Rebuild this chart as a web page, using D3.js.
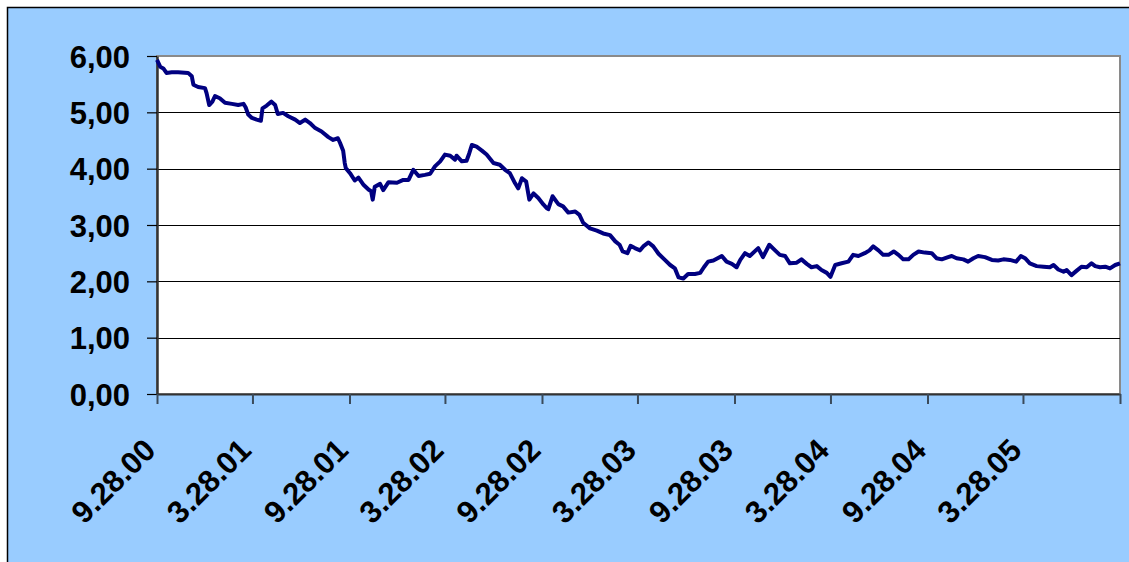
<!DOCTYPE html>
<html>
<head>
<meta charset="utf-8">
<script src="https://cdn.jsdelivr.net/npm/d3@7"></script>
<style>
  body { margin: 0; background: #ffffff; }
  text { font-family: "Liberation Sans", Arial, sans-serif; font-weight: bold; }
</style>
</head>
<body>
<div id="chart"></div>
<script>
// days after 28.09.2000, and the value at that day
var days = [0, 6, 12, 18, 28, 40, 59, 66, 69, 78, 91, 94, 99, 105, 110, 119, 129, 142, 154, 164,
    168, 173, 180, 189, 197, 200, 208, 217, 224, 229, 239, 249, 262, 271, 281, 290, 300, 312, 325, 334,
    343, 347, 353, 356, 358, 366, 375, 382, 391, 401, 406, 409, 413, 423, 429, 439, 455, 467, 477, 486,
    496, 508, 518, 527, 537, 546, 556, 565, 568, 578, 587, 592, 597, 606, 616, 625, 638, 650, 660, 669,
    679, 685, 692, 700, 706, 714, 723, 733, 739, 742, 750, 761, 770, 780, 793, 801, 808, 821, 834, 846,
    859, 869, 877, 883, 892, 898, 906, 916, 922, 932, 941, 951, 963, 973, 982, 989, 998, 1007, 1020, 1030,
    1037, 1045, 1055, 1071, 1080, 1090, 1099, 1106, 1115, 1124, 1140, 1149, 1161, 1172, 1181, 1191, 1200, 1213, 1222, 1232,
    1241, 1251, 1260, 1270, 1277, 1286, 1298, 1311, 1320, 1330, 1342, 1351, 1358, 1368, 1377, 1387, 1397, 1406, 1415, 1425,
    1434, 1444, 1456, 1469, 1478, 1488, 1500, 1507, 1516, 1529, 1538, 1548, 1557, 1570, 1583, 1595, 1605, 1617, 1629, 1638,
    1646, 1655, 1668, 1681, 1693, 1700, 1709, 1719, 1725, 1734, 1744, 1753, 1763, 1772, 1779, 1788, 1798, 1807, 1817, 1826];

var values = [5.93, 5.81, 5.78, 5.70, 5.71, 5.71, 5.70, 5.64, 5.49, 5.45, 5.43, 5.34, 5.13, 5.19, 5.29, 5.25, 5.17, 5.15, 5.13, 5.15,
    5.09, 4.96, 4.90, 4.87, 4.85, 5.07, 5.12, 5.19, 5.13, 4.97, 4.99, 4.93, 4.87, 4.81, 4.87, 4.81, 4.72, 4.66, 4.56, 4.51,
    4.54, 4.46, 4.32, 4.10, 4.01, 3.92, 3.79, 3.84, 3.72, 3.63, 3.60, 3.45, 3.68, 3.73, 3.62, 3.76, 3.75, 3.80, 3.80, 3.98,
    3.87, 3.89, 3.91, 4.04, 4.13, 4.25, 4.23, 4.16, 4.23, 4.13, 4.14, 4.27, 4.42, 4.39, 4.32, 4.25, 4.10, 4.07, 3.98, 3.92,
    3.74, 3.65, 3.83, 3.77, 3.45, 3.56, 3.48, 3.36, 3.30, 3.28, 3.51, 3.37, 3.33, 3.22, 3.24, 3.18, 3.04, 2.94, 2.90, 2.85,
    2.82, 2.71, 2.65, 2.53, 2.50, 2.63, 2.59, 2.55, 2.62, 2.69, 2.62, 2.49, 2.38, 2.29, 2.23, 2.07, 2.05, 2.13, 2.13, 2.15,
    2.25, 2.35, 2.37, 2.45, 2.35, 2.31, 2.25, 2.38, 2.50, 2.45, 2.59, 2.43, 2.65, 2.55, 2.47, 2.45, 2.32, 2.33, 2.39, 2.31,
    2.25, 2.27, 2.20, 2.15, 2.08, 2.29, 2.32, 2.35, 2.47, 2.45, 2.50, 2.55, 2.62, 2.55, 2.47, 2.47, 2.53, 2.47, 2.39, 2.39,
    2.47, 2.53, 2.51, 2.50, 2.41, 2.39, 2.43, 2.45, 2.41, 2.39, 2.35, 2.41, 2.45, 2.43, 2.38, 2.37, 2.39, 2.38, 2.35, 2.45,
    2.41, 2.32, 2.27, 2.26, 2.25, 2.29, 2.21, 2.17, 2.20, 2.11, 2.19, 2.26, 2.25, 2.32, 2.27, 2.25, 2.26, 2.23, 2.29, 2.32];

var tick_dates = ["2000-09-28", "2001-03-28", "2001-09-28", "2002-03-28", "2002-09-28", "2003-03-28",
    "2003-09-28", "2004-03-28", "2004-09-28", "2005-03-28", "2005-09-28"];
var tick_labels = ["9.28.00", "3.28.01", "9.28.01", "3.28.02", "9.28.02", "3.28.03",
    "9.28.03", "3.28.04", "9.28.04", "3.28.05", ""];
var y_ticks = [0, 1, 2, 3, 4, 5, 6];

var width = 1129, height = 562;
var plot = { left: 157, top: 56, right: 1120, bottom: 394 };
var font_size = 31;

var parse = d3.timeParse("%Y-%m-%d");
var start = parse("2000-09-28");
var data = days.map(function (d, i) {
    return { date: d3.timeDay.offset(start, d), value: values[i] };
});
var ticks = tick_dates.map(parse);

var x = d3.scaleTime()
    .domain([start, ticks[ticks.length - 1]])
    .range([plot.left, plot.right]);
var y = d3.scaleLinear()
    .domain([0, 6])
    .range([plot.bottom, plot.top]);

var svg = d3.select("#chart").append("svg")
    .attr("width", width)
    .attr("height", height);

// outer frame
svg.append("rect")
    .attr("x", 7.5).attr("y", 7.5)
    .attr("width", width).attr("height", height)
    .attr("fill", "#99CCFF")
    .attr("stroke", "#000")
    .attr("stroke-width", 1.5);

// plot area
svg.append("rect")
    .attr("x", plot.left).attr("y", plot.top)
    .attr("width", plot.right - plot.left).attr("height", plot.bottom - plot.top)
    .attr("fill", "#fff")
    .attr("stroke", "#8a8a8a")
    .attr("stroke-width", 2);

// gridlines
svg.append("g").selectAll("line")
    .data(y_ticks.slice(1, -1))
    .enter().append("line")
    .attr("x1", plot.left).attr("x2", plot.right)
    .attr("y1", function (d) { return Math.round(y(d)) + 0.5; })
    .attr("y2", function (d) { return Math.round(y(d)) + 0.5; })
    .attr("stroke", "#000")
    .attr("stroke-width", 1.2);

// y axis
var y_axis = svg.append("g")
    .attr("transform", "translate(" + plot.left + ",0)")
    .call(d3.axisLeft(y)
        .tickValues(y_ticks)
        .tickSize(10)
        .tickPadding(17)
        .tickSizeOuter(0)
        .tickFormat(function (d) { return d3.format(".2f")(d).replace(".", ","); }));
y_axis.select(".domain").attr("stroke", "#333").attr("stroke-width", 2.5);
y_axis.selectAll(".tick line").attr("stroke", "#000").attr("stroke-width", 1.2);
y_axis.selectAll("text")
    .attr("font-size", font_size)
    .attr("font-weight", "bold")
    .attr("fill", "#000")
    .attr("dy", "0.36em");

// x axis
var x_axis = svg.append("g")
    .attr("transform", "translate(0," + plot.bottom + ")")
    .call(d3.axisBottom(x)
        .tickValues(ticks)
        .tickSize(10)
        .tickSizeOuter(0)
        .tickFormat(function (d, i) { return tick_labels[i]; }));
x_axis.select(".domain").attr("stroke", "#333").attr("stroke-width", 2);
x_axis.selectAll(".tick line").attr("stroke", "#3a4a5a").attr("stroke-width", 2);
x_axis.selectAll("text")
    .attr("x", 0)
    .attr("y", 0)
    .attr("dy", 0)
    .attr("transform", "translate(0,58) rotate(-45)")
    .style("text-anchor", "end")
    .attr("font-size", font_size)
    .attr("font-weight", "bold")
    .attr("fill", "#000");

// the series
var line = d3.line()
    .x(function (d) { return x(d.date); })
    .y(function (d) { return y(d.value); });

svg.append("path")
    .datum(data)
    .attr("d", line)
    .attr("fill", "none")
    .attr("stroke", "#000080")
    .attr("stroke-width", 4)
    .attr("stroke-linejoin", "round");
</script>
</body>
</html>
